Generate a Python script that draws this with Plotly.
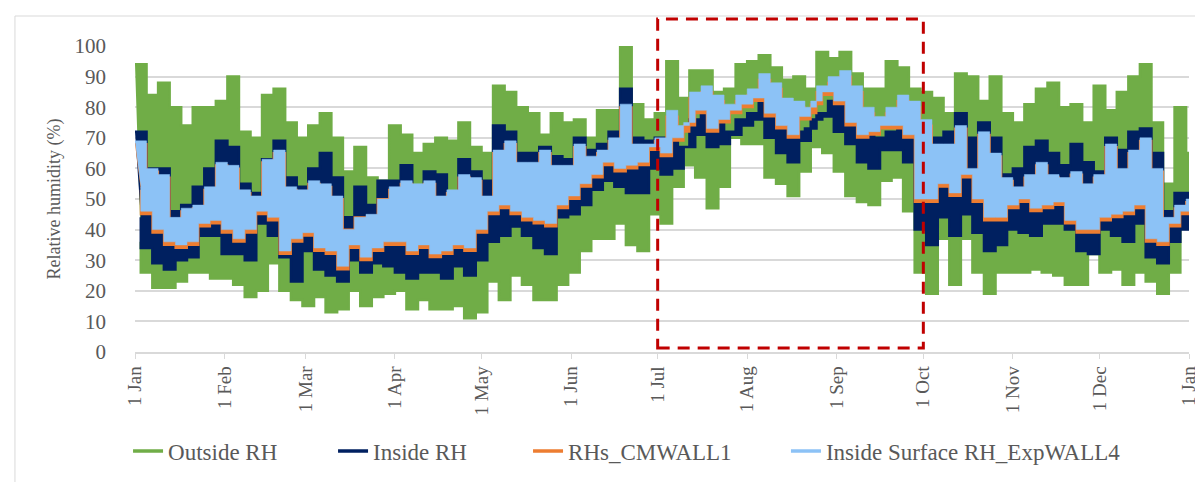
import pandas as pd
import plotly.graph_objects as go

# ---- axis labels ----
month_starts = ["2021-01-01", "2021-02-01", "2021-03-01", "2021-04-01", "2021-05-01",
                "2021-06-01", "2021-07-01", "2021-08-01", "2021-09-01", "2021-10-01",
                "2021-11-01", "2021-12-01", "2022-01-01"]
month_labels = ["1 Jan", "1 Feb", "1 Mar", "1 Apr", "1 May", "1 Jun", "1 Jul",
                "1 Aug", "1 Sep", "1 Oct", "1 Nov", "1 Dec", "1 Jan"]

# ---- values ----
# "_hi": local peaks read every 4 days starting 1 Jan (day 0, 4, 8 ...)
# "_lo": local troughs read every 4 days starting 3 Jan (day 2, 6, 10 ...)
outside_hi = [94, 84, 88, 80, 74, 80, 80, 82,
              90, 72, 70, 84, 86, 75, 70,
              74, 78, 70, 59, 67, 57, 56, 74,
              71, 65, 68, 70, 69, 75, 67,
              65, 87, 85, 80, 78, 71, 78, 75,
              76, 70, 79, 79, 100, 81, 76, 78,
              95, 83, 92, 92, 85, 86, 94,
              95, 97, 93, 89, 90, 86, 98, 96,
              98, 91, 86, 86, 95, 93, 86, 85,
              83, 78, 91, 90, 82, 90, 78,
              75, 81, 86, 88, 80, 81, 75, 87,
              79, 85, 90, 94, 75, 55, 80, 65]
outside_lo = [36, 26, 21, 21, 23, 26, 26, 24,
              24, 22, 18, 20, 29, 20, 17,
              15, 18, 13, 14, 20, 15, 18, 19,
              20, 14, 17, 14, 14, 15, 11,
              13, 23, 17, 25, 22, 17, 17, 22,
              26, 33, 37, 37, 42, 35, 33,
              45, 42, 54, 61, 57, 47, 54, 70,
              68, 68, 57, 55, 51, 59, 67, 65,
              59, 51, 49, 48, 56, 57, 46,
              26, 19, 37, 22, 37, 26, 19, 26,
              26, 26, 27, 26, 25, 22, 22, 32,
              26, 27, 22, 26, 23, 19, 26, 42]

inside_hi = [72, 60, 60, 46, 48, 54, 60, 69,
             67, 55, 52, 63, 69, 57, 54,
             60, 65, 57, 44, 54, 48, 56, 56,
             61, 53, 59, 58, 52, 63, 59,
             56, 74, 72, 65, 65, 67, 64, 63,
             70, 66, 68, 72, 86, 70, 69, 70,
             70, 67, 76, 79, 76, 72, 76,
             78, 82, 80, 74, 72, 73, 78, 82,
             85, 74, 71, 70, 72, 74, 72, 68,
             70, 72, 78, 70, 75, 70, 58,
             60, 67, 69, 65, 61, 68, 62, 59,
             70, 66, 72, 73, 65, 46, 52, 52]
inside_lo = [44, 34, 29, 27, 30, 31, 38, 38,
             32, 32, 30, 42, 38, 31, 23,
             33, 27, 25, 23, 30, 26, 29, 28,
             26, 24, 26, 26, 24, 28, 25,
             30, 36, 38, 41, 38, 34, 32, 44,
             45, 48, 53, 56, 54, 52, 52,
             60, 58, 60, 67, 71, 67, 68, 71,
             74, 76, 70, 65, 62, 69, 76, 77,
             72, 68, 62, 60, 66, 66, 62,
             40, 35, 44, 38, 45, 39, 33, 35,
             40, 39, 38, 42, 42, 40, 33, 32,
             40, 38, 36, 42, 31, 29, 36, 40]

cmwall_hi = [68, 59, 57, 43, 46, 47, 53, 61,
             60, 52, 50, 62, 65, 53, 52,
             55, 54, 50, 40, 44, 44, 50, 53,
             55, 54, 55, 50, 52, 57, 56,
             50, 65, 68, 61, 61, 65, 60, 60,
             67, 63, 65, 69, 80, 67, 67, 69,
             77, 72, 83, 85, 82, 79, 82,
             84, 89, 86, 81, 80, 78, 85, 88,
             90, 85, 78, 75, 78, 82, 80, 74,
             67, 67, 73, 59, 71, 64, 56,
             53, 57, 61, 57, 56, 58, 54, 57,
             67, 59, 65, 69, 59, 43, 47, 49]
cmwall_lo = [53, 45, 39, 35, 34, 35, 41, 42,
             39, 36, 39, 45, 43, 32, 36,
             38, 33, 32, 27, 34, 30, 33, 35,
             35, 32, 34, 31, 32, 34, 33,
             39, 45, 47, 45, 43, 42, 41, 47,
             50, 54, 57, 61, 59, 60, 61,
             66, 64, 69, 74, 78, 72, 75, 78,
             80, 82, 77, 73, 70, 76, 81, 84,
             81, 74, 70, 71, 73, 73, 70,
             49, 49, 54, 51, 57, 49, 43, 43,
             47, 49, 46, 47, 48, 42, 39, 39,
             43, 44, 45, 47, 36, 35, 41, 45]

expwall_hi = [69, 60, 58, 44, 47, 48, 54, 62,
              61, 53, 51, 63, 66, 54, 53,
              56, 55, 51, 40, 44, 45, 50, 54,
              56, 55, 56, 51, 53, 58, 57,
              51, 66, 69, 62, 62, 66, 61, 61,
              68, 64, 66, 70, 81, 68, 68, 70,
              79, 74, 85, 87, 84, 81, 84,
              86, 91, 88, 83, 82, 80, 87, 90,
              92, 87, 80, 77, 80, 84, 82, 76,
              68, 68, 74, 60, 72, 65, 57,
              54, 58, 62, 58, 57, 59, 55, 58,
              68, 60, 66, 70, 60, 44, 48, 50]
expwall_lo = [54, 46, 40, 36, 35, 36, 42, 43,
              40, 37, 40, 46, 44, 33, 37,
              39, 34, 33, 28, 35, 31, 34, 36,
              36, 33, 35, 32, 33, 35, 34,
              40, 46, 48, 46, 44, 43, 42, 48,
              51, 55, 58, 62, 60, 61, 62,
              67, 65, 70, 75, 79, 73, 76, 79,
              81, 83, 78, 74, 71, 77, 82, 85,
              82, 75, 71, 72, 74, 74, 71,
              50, 50, 55, 52, 58, 50, 44, 44,
              48, 50, 47, 48, 49, 43, 40, 40,
              44, 45, 46, 48, 37, 36, 42, 46]

START = pd.Timestamp("2021-01-01")
END = pd.Timestamp("2022-01-01")


def band_xy(hi, lo):
    """Closed outline: peaks left->right, then troughs right->left."""
    hx = [START + pd.Timedelta(days=4 * k) for k in range(len(hi))]
    lx = [min(START + pd.Timedelta(days=4 * k + 2), END) for k in range(len(lo))]
    return hx + lx[::-1], list(hi) + list(lo)[::-1]


series = [
    ("Outside RH", outside_hi, outside_lo, "#70AD47", 2.5, "legend"),
    ("Inside RH", inside_hi, inside_lo, "#002060", 2.5, "legend2"),
    ("RHs_CMWALL1", cmwall_hi, cmwall_lo, "#ED7D31", 2.0, "legend3"),
    ("Inside Surface RH_ExpWALL4", expwall_hi, expwall_lo, "#8CC2F6", 0.5, "legend4"),
]

FONT = "Liberation Serif, DejaVu Serif, serif"
GREY = "#595959"

fig = go.Figure()
for name, hi, lo, color, w, lg in series:
    xs, ys = band_xy(hi, lo)
    fig.add_trace(go.Scatter(x=xs, y=ys, mode="lines", fill="toself", fillcolor=color,
                             line=dict(color=color, width=w, shape="hv"), name=name,
                             legendgroup=name, showlegend=False, hoverinfo="skip"))
for name, hi, lo, color, w, lg in series:
    # legend entry (line sample) for the band above
    fig.add_trace(go.Scatter(x=[None], y=[None], mode="lines", name=name,
                             legendgroup=name, legend=lg,
                             line=dict(color=color, width=3.5)))

# highlighted period (1 Jul - 1 Oct) as paper fraction of the year
span = (END - START).days
x_jul = (pd.Timestamp("2021-07-01") - START).days / span
x_oct = (pd.Timestamp("2021-10-01") - START).days / span
fig.add_shape(type="rect", xref="paper", yref="paper", x0=x_jul, x1=x_oct,
              y0=0.013, y1=1.088, line=dict(color="#C00000", width=3, dash="12px,8px"),
              fillcolor="rgba(0,0,0,0)", layer="above")
# chart border
fig.add_shape(type="rect", xref="paper", yref="paper", x0=-0.1139, x1=1.0142,
              y0=-0.444, y1=1.098, line=dict(color="#D9D9D9", width=1), layer="below")

leg_common = dict(orientation="h", yanchor="middle", y=-0.324, xanchor="left",
                  font=dict(family=FONT, size=23, color=GREY), bgcolor="rgba(0,0,0,0)")
fig.update_layout(
    width=1203, height=482,
    margin=dict(l=127, r=22, t=38, b=138),
    paper_bgcolor="white", plot_bgcolor="white",
    font=dict(family=FONT, color=GREY),
    showlegend=True,
    legend=dict(x=-0.0066, **leg_common),
    legend2=dict(x=0.1879, **leg_common),
    legend3=dict(x=0.3729, **leg_common),
    legend4=dict(x=0.6176, **leg_common),
    xaxis=dict(type="date", range=[START, END], tickmode="array",
               tickvals=month_starts, ticktext=month_labels, tickangle=-90,
               tickfont=dict(family=FONT, size=19, color=GREY),
               showgrid=False, showline=True, linecolor="#D9D9D9", linewidth=1.5,
               ticks="outside", ticklen=5, tickcolor="#D9D9D9", zeroline=False),
    yaxis=dict(range=[0, 100], dtick=10, tickfont=dict(family=FONT, size=21, color=GREY),
               showgrid=True, gridcolor="#D9D9D9", gridwidth=1.5, zeroline=False,
               ticklabelstandoff=28,
               title=dict(text="Relative humidity (%)", standoff=9,
                          font=dict(family=FONT, size=18, color=GREY))),
)

fig.write_html("out.html")
